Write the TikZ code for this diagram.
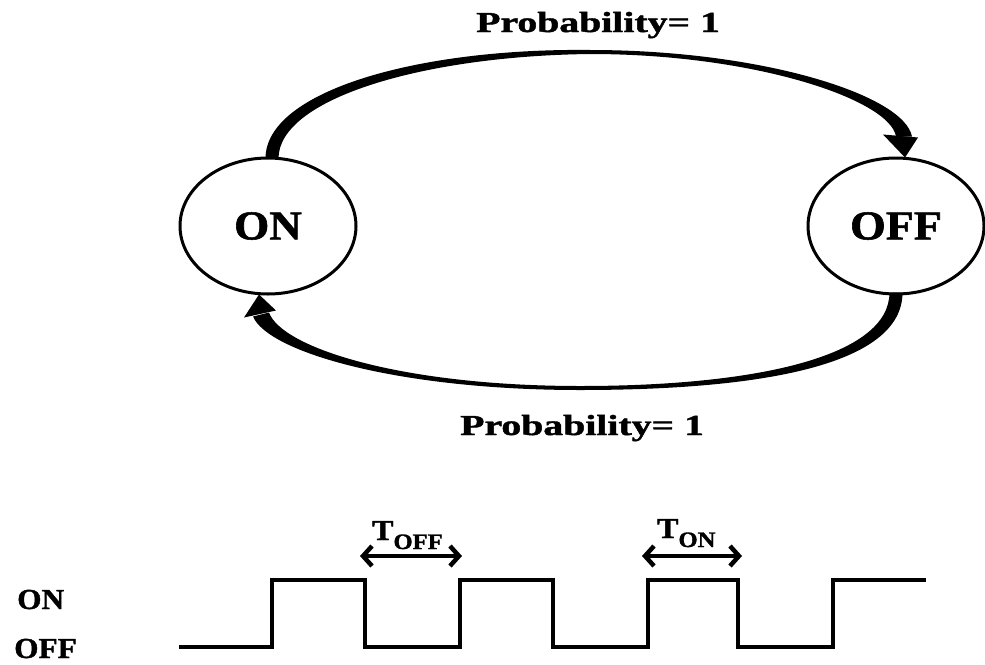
\documentclass[tikz,border=0pt]{standalone}
\usepackage{fontspec}
\setmainfont[BoldFeatures={FakeBold=1.3}]{Liberation Serif}
\usepackage{graphicx}
\usetikzlibrary{shapes.geometric,arrows.meta,calc}
\begin{document}
\begin{tikzpicture}[x=1pt,y=-1pt,
  state/.style={ellipse,draw,line width=3pt,minimum width=176pt,minimum height=136pt,inner sep=0pt},
  lbl/.style={inner sep=0pt,anchor=base west,font=\bfseries},
  wave/.style={line width=4pt,line join=miter},
  dimline/.style={line width=4.5pt,{Straight Barb[length=9pt,width=20pt,line width=4.5pt]}-{Straight Barb[length=9pt,width=20pt,line width=4.5pt]}}]
\useasboundingbox (0,0) rectangle (985,664);

% states
\node[state] (on) at (268,226) {\bfseries\fontsize{41}{41}\selectfont\scalebox{1.1}[1]{ON}};
\node[state] (off) at (896,226) {\bfseries\fontsize{41}{41}\selectfont\scalebox{1.12}[1]{OFF}};

% top tapered arc ON -> OFF
\fill ($(on.north)+(-2.5,2)$) .. controls (265.5,91) and (418,48) .. (590,50)
      .. controls (762,50) and (904,95) .. ($(off.north)+(16,-20)$)
      -- ($(off.north)+(0,-20)$) .. controls (890,100) and (756,54) .. (590,54)
      .. controls (422,56) and (278.5,99) .. ($(on.north)+(10.5,2)$) -- cycle;
\fill ($(off.north)+(-13,-22)$) -- ($(off.north)+(22,-19)$) -- ($(off.north)+(9,1)$) -- cycle;

% bottom tapered arc OFF -> ON
\fill ($(off.south)+(6.5,-3)$) .. controls (902.5,365) and (762,390) .. (580,390)
      .. controls (398,390) and (268,352) .. ($(on.south)+(-15,21)$)
      -- ($(on.south)+(1,17)$) .. controls (282,348) and (402,386) .. (580,386)
      .. controls (758,386) and (889.5,356) .. ($(off.south)+(-6.5,-3)$) -- cycle;
\fill ($(on.south)+(-24,22)$) -- ($(on.south)+(8,15)$) -- ($(on.south)+(-9,-1)$) -- cycle;

% probability labels
\node[lbl] (ptop) at (476,32) {\fontsize{29}{30}\selectfont\scalebox{1.37}[1]{Probability= 1}};
\node[lbl] (pbot) at (460,435) {\fontsize{29}{30}\selectfont\scalebox{1.37}[1]{Probability= 1}};

% waveform
\draw[wave] (179,647) -- (272,647) -- (272,580) -- (365,580) -- (365,647) -- (460,647)
  -- (460,580) -- (553,580) -- (553,647) -- (648,647) -- (648,580) -- (738,580)
  -- (738,647) -- (833,647) -- (833,580) -- (926,580);

% level labels
\node[lbl] (lon) at (17,609) {\fontsize{29}{30}\selectfont\scalebox{1.08}[1]{ON}};
\node[lbl] (loff) at (14,658) {\fontsize{29}{30}\selectfont\scalebox{1.08}[1]{OFF}};

% period markers
\coordinate (a1) at (360,556);
\coordinate (a2) at (462,556);
\coordinate (b1) at (642,556);
\coordinate (b2) at (742,556);
\draw[dimline] (a1) -- (a2);
\draw[dimline] (b1) -- (b2);
\node[lbl] (toff) at (372,540) {\fontsize{29}{30}\selectfont\scalebox{1.1}[1]{T}\raisebox{-9pt}{\fontsize{22}{24}\selectfont\scalebox{1.12}[1]{OFF}}};
\node[lbl] (ton) at (657,538) {\fontsize{29}{30}\selectfont\scalebox{1.1}[1]{T}\raisebox{-9pt}{\fontsize{22}{24}\selectfont\scalebox{1.12}[1]{ON}}};
\end{tikzpicture}
\end{document}
